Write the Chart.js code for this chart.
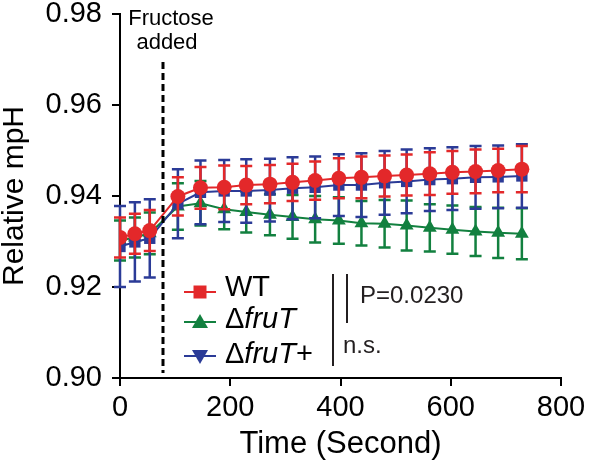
<!DOCTYPE html>
<html>
<head>
<meta charset="utf-8">
<script src="https://cdn.jsdelivr.net/npm/chart.js@4"></script>
<style>
  body { margin: 0; background: #fff; }
  canvas { display: block; }
</style>
</head>
<body>
<canvas id="grafico" width="595" height="464"></canvas>
<script>
// tempo de cada medida (s)
const timeSec = [0, 27, 54, 105, 146, 189, 229, 272, 313, 354, 397, 438, 480, 520, 562, 603, 645, 686, 729];

// WT
const wtMean = [0.9309, 0.9317, 0.9324, 0.9399, 0.9418, 0.9419, 0.9424, 0.9426, 0.9430, 0.9434, 0.9439, 0.9441, 0.9444, 0.9446, 0.9449, 0.9452, 0.9454, 0.9456, 0.9459];
const wtErr  = [0.0044, 0.0044, 0.0045, 0.0042, 0.0046, 0.0048, 0.0042, 0.0042, 0.0041, 0.0042, 0.0044, 0.0046, 0.0045, 0.0045, 0.0047, 0.0047, 0.0048, 0.0048, 0.0051];

// ΔfruT
const fruTMean = [0.9302, 0.9309, 0.9318, 0.9377, 0.9384, 0.9371, 0.9365, 0.9359, 0.9354, 0.9349, 0.9346, 0.9340, 0.9339, 0.9335, 0.9330, 0.9326, 0.9322, 0.9319, 0.9317];
const fruTErr  = [0.0044, 0.0044, 0.0046, 0.0051, 0.0049, 0.0044, 0.0045, 0.0045, 0.0048, 0.0051, 0.0051, 0.0049, 0.0052, 0.0055, 0.0052, 0.0053, 0.0054, 0.0055, 0.0056];

// ΔfruT+
const compMean = [0.9289, 0.9299, 0.9307, 0.9383, 0.9408, 0.9411, 0.9411, 0.9413, 0.9417, 0.9419, 0.9424, 0.9424, 0.9429, 0.9432, 0.9436, 0.9438, 0.9441, 0.9442, 0.9444];
const compErr  = [0.0089, 0.0087, 0.0086, 0.0076, 0.0070, 0.0068, 0.0070, 0.0069, 0.0068, 0.0068, 0.0068, 0.0070, 0.0070, 0.0070, 0.0069, 0.0069, 0.0069, 0.0069, 0.0070];

const yTicks = [0.90, 0.92, 0.94, 0.96, 0.98];
const xTicks = [0, 200, 400, 600, 800];
const fructoseTime = 78;

const RED = '#E3282A';
const GREEN = '#12803F';
const BLUE = '#2B3B97';
const FONT = "'Liberation Sans', Arial, sans-serif";

function pontos(valores) {
    return timeSec.map((t, i) => ({ x: t, y: valores[i] }));
}

// barras de erro desenhadas antes de cada dataset
const errorBars = {
    id: 'errorBars',
    beforeDatasetDraw(chart, args) {
        const ds = chart.data.datasets[args.index];
        if (!ds.errors) return;
        const { ctx, scales: { x, y } } = chart;
        ctx.save();
        ctx.strokeStyle = ds.borderColor;
        ctx.lineWidth = 2.5;
        ds.data.forEach((p, i) => {
            const px = x.getPixelForValue(p.x);
            const top = y.getPixelForValue(p.y + ds.errors[i]);
            const bot = y.getPixelForValue(p.y - ds.errors[i]);
            ctx.beginPath();
            ctx.moveTo(px, top); ctx.lineTo(px, bot);
            ctx.moveTo(px - 6, top); ctx.lineTo(px + 6, top);
            ctx.moveTo(px - 6, bot); ctx.lineTo(px + 6, bot);
            ctx.stroke();
        });
        ctx.restore();
    }
};

function marcador(ctx, tipo, cx, cy, cor) {
    ctx.fillStyle = cor;
    ctx.beginPath();
    if (tipo === 'rect') {
        ctx.rect(cx - 6.5, cy - 6.5, 13, 13);
    } else if (tipo === 'up') {
        ctx.moveTo(cx, cy - 8); ctx.lineTo(cx + 8, cy + 6); ctx.lineTo(cx - 8, cy + 6);
    } else {
        ctx.moveTo(cx, cy + 8); ctx.lineTo(cx + 8, cy - 6); ctx.lineTo(cx - 8, cy - 6);
    }
    ctx.closePath();
    ctx.fill();
}

// texto com partes em itálico
function textoMisto(ctx, partes, x, y, tamanho) {
    let cx = x;
    partes.forEach(([txt, italico]) => {
        ctx.font = (italico ? 'italic ' : '') + tamanho + 'px ' + FONT;
        ctx.fillText(txt, cx, y);
        cx += ctx.measureText(txt).width;
    });
}

const anotacoes = {
    id: 'anotacoes',
    afterDraw(chart) {
        const { ctx, scales: { x } } = chart;
        ctx.save();

        // linha de adição de frutose
        const fx = x.getPixelForValue(fructoseTime);
        ctx.strokeStyle = '#000';
        ctx.lineWidth = 3;
        ctx.setLineDash([7, 4]);
        ctx.beginPath();
        ctx.moveTo(fx, 62); ctx.lineTo(fx, 373);
        ctx.stroke();
        ctx.setLineDash([]);

        ctx.fillStyle = '#000';
        ctx.textAlign = 'center';
        ctx.textBaseline = 'alphabetic';
        ctx.font = '22px ' + FONT;
        ctx.fillText('Fructose', 171, 25);
        ctx.fillText('added', 167, 49);

        // legenda
        const itens = [
            { cor: RED, tipo: 'rect', linhaY: 292, baseY: 296, partes: [['WT', false]] },
            { cor: GREEN, tipo: 'up', linhaY: 322, baseY: 328, partes: [['Δ', false], ['fruT', true]] },
            { cor: BLUE, tipo: 'down', linhaY: 356, baseY: 363, partes: [['Δ', false], ['fruT', true], ['+', false]] }
        ];
        ctx.textAlign = 'left';
        itens.forEach(it => {
            ctx.strokeStyle = it.cor;
            ctx.lineWidth = 2;
            ctx.beginPath();
            ctx.moveTo(184, it.linhaY); ctx.lineTo(216, it.linhaY);
            ctx.stroke();
            marcador(ctx, it.tipo, 200, it.linhaY, it.cor);
            ctx.fillStyle = '#000';
            textoMisto(ctx, it.partes, 225, it.baseY, 29);
        });

        // colchetes de significância
        ctx.strokeStyle = '#231f20';
        ctx.lineWidth = 2;
        ctx.beginPath();
        ctx.moveTo(333, 274); ctx.lineTo(333, 366);
        ctx.moveTo(347, 274); ctx.lineTo(347, 323);
        ctx.stroke();
        ctx.fillStyle = '#231f20';
        ctx.font = '24px ' + FONT;
        ctx.fillText('P=0.0230', 360, 303);
        ctx.fillText('n.s.', 343, 353);

        ctx.restore();
    }
};

const ctx = document.getElementById('grafico');

new Chart(ctx, {
    type: 'line',
    data: {
        datasets: [
            {
                label: 'WT',
                data: pontos(wtMean),
                errors: wtErr,
                borderColor: RED,
                backgroundColor: RED,
                borderWidth: 2,
                pointStyle: 'circle',
                pointRadius: 7.5,
                pointBorderWidth: 0,
                tension: 0
            },
            {
                label: 'ΔfruT+',
                data: pontos(compMean),
                errors: compErr,
                borderColor: BLUE,
                backgroundColor: BLUE,
                borderWidth: 2,
                pointStyle: 'rect',
                pointRadius: 8,
                pointBorderWidth: 0,
                tension: 0
            },
            {
                label: 'ΔfruT',
                data: pontos(fruTMean),
                errors: fruTErr,
                borderColor: GREEN,
                backgroundColor: GREEN,
                borderWidth: 2,
                pointStyle: 'triangle',
                pointRadius: 8,
                pointBorderWidth: 0,
                tension: 0
            }
        ]
    },
    options: {
        responsive: false,
        animation: false,
        devicePixelRatio: 1,
        layout: { padding: { top: 14, right: 34, bottom: 0, left: 0 } },
        plugins: {
            legend: { display: false },
            tooltip: { enabled: false }
        },
        scales: {
            x: {
                type: 'linear',
                min: 0,
                max: 800,
                afterFit: s => { s.height = 86; s.paddingLeft = 0; s.paddingRight = 0; },
                afterBuildTicks: s => { s.ticks = xTicks.map(v => ({ value: v })); },
                ticks: {
                    color: '#000',
                    padding: 5,
                    maxRotation: 0,
                    font: { family: FONT, size: 29 }
                },
                grid: {
                    drawOnChartArea: false,
                    drawTicks: true,
                    tickLength: 8,
                    color: '#000',
                    lineWidth: 2
                },
                border: { display: true, color: '#000', width: 2 },
                title: {
                    display: true,
                    text: 'Time (Second)',
                    color: '#000',
                    padding: { top: 0, bottom: 1 },
                    font: { family: FONT, size: 31 }
                }
            },
            y: {
                min: 0.90,
                max: 0.98,
                afterFit: s => { s.width = 120; s.paddingTop = 0; s.paddingBottom = 0; },
                afterBuildTicks: s => { s.ticks = yTicks.map(v => ({ value: v })); },
                ticks: {
                    color: '#000',
                    padding: 10,
                    font: { family: FONT, size: 29 },
                    callback: v => v.toFixed(2)
                },
                grid: {
                    drawOnChartArea: false,
                    drawTicks: true,
                    tickLength: 8,
                    color: '#000',
                    lineWidth: 2
                },
                border: { display: true, color: '#000', width: 2 },
                title: {
                    display: true,
                    text: 'Relative mpH',
                    color: '#000',
                    padding: 0,
                    font: { family: FONT, size: 30, lineHeight: 1.0 }
                }
            }
        }
    },
    plugins: [errorBars, anotacoes]
});
</script>
</body>
</html>
